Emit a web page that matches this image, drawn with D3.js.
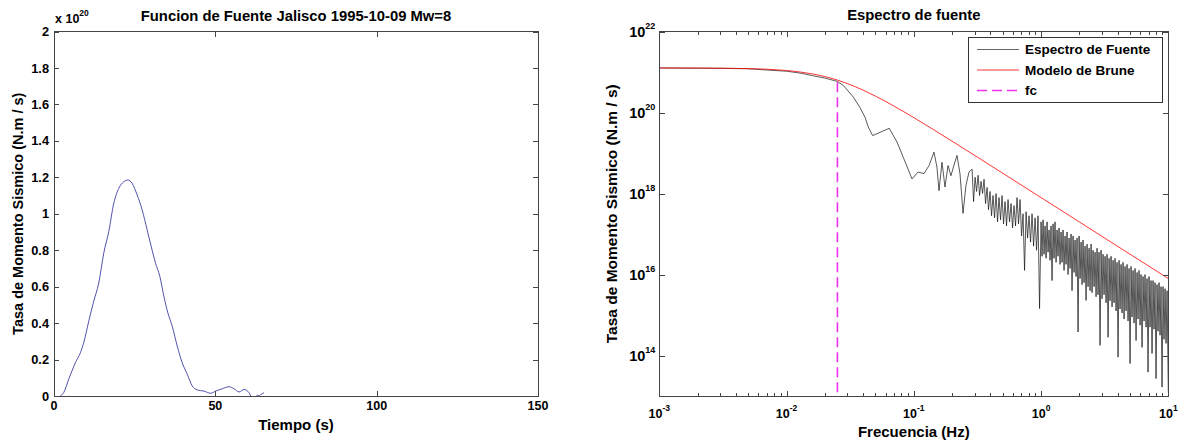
<!DOCTYPE html>
<html><head><meta charset="utf-8">
<script src="https://cdn.jsdelivr.net/npm/d3@7"></script>
<style>
body{margin:0;background:#fff;}
svg text{font-family:"Liberation Sans",Arial,Helvetica,sans-serif;font-weight:bold;fill:#000;}
</style></head><body>
<svg id="c" width="1178" height="442"></svg>
<script>
// ---------- DATA ----------
// Source time function: [time (s), moment rate (x 1e20 N.m/s)]
const stfData = [
 [1.96,0],[2.99,0.018],[4.54,0.091],[6.61,0.182],[8.17,0.237],[9.2,0.292],[10.76,0.41],[12.31,0.52],
 [13.87,0.62],[15.42,0.784],[16.98,0.903],[18.53,1.058],[20.09,1.14],[21.64,1.176],[22.88,1.185],
 [24.21,1.167],[25.77,1.103],[27.32,1.021],[28.87,0.912],[30.12,0.821],[31.46,0.729],[32.81,0.656],
 [34.05,0.547],[35.29,0.456],[36.64,0.383],[38.19,0.274],[39.74,0.182],[41.3,0.119],[42.85,0.055],
 [44.4,0.033],[46.47,0.027],[48.54,0.015],[50.1,0.027],[52.17,0.040],[54.23,0.051],[55.79,0.040],
 [57.34,0.022],[58.9,0.036],[60.45,0.018],[61.2,-0.005],[62.3,-0.01],[63.0,0.004],[63.6,0.0],
 [64.1,0.008],[65.1,0.018]
];
// Source spectrum: [frequency (Hz), log10 amplitude (N.m/s)]
const spectrumData = [
 [0.001,21.10],[0.003,21.09],[0.005,21.08],[0.0078,21.04],[0.01,21.02],[0.013,20.97],[0.016,20.91],
 [0.02,20.85],[0.0249,20.77],[0.0279,20.67],[0.0335,20.38],[0.0378,20.12],[0.0414,19.88],[0.0439,19.64],
 [0.0475,19.43],[0.0543,19.51],[0.0642,19.61],[0.0738,19.27],[0.0868,18.73],[0.0968,18.36],[0.1079,18.53],
 [0.1202,18.49],[0.1317,18.69],[0.1441,19.02],[0.152,18.65],[0.1578,18.07],[0.1666,18.77],[0.1758,18.16],
 [0.1858,18.69],[0.1959,18.44],[0.207,18.70],[0.2185,18.94],[0.2307,18.49],[0.2438,17.51],[0.257,18.20],
 [0.2716,18.53],
 [0.287,18.60],[0.2949,17.80],[0.303,18.40],[0.3113,18.05],[0.320,18.45],[0.3288,17.95],[0.3377,18.30],
 [0.347,18.00],[0.3565,18.35],[0.3663,17.75],[0.3764,18.15],[0.3868,17.60],[0.3973,18.05],[0.4082,17.45],
 [0.4195,17.95],[0.431,17.40],[0.4429,18.00],[0.4551,17.30],[0.4675,17.90],[0.4804,17.35],[0.4937,17.95],
 [0.5073,17.25],[0.5212,17.80],[0.5355,17.20],[0.5503,17.85],[0.5654,17.30],[0.5809,17.75],[0.5969,17.15],
 [0.6134,17.70],[0.6303,17.20],[0.6476,17.90],[0.6654,17.25],[0.6839,17.85],[0.7027,16.95],[0.7221,17.50],
 [0.742,16.10],[0.7625,17.55],[0.7835,16.90],[0.8049,17.45],[0.827,16.80],[0.8499,17.50],[0.8733,16.70],
 [0.8974,17.40],[0.9221,16.60],[0.9472,17.45],[0.9732,15.16],[1.0,17.30],
 [1.018,16.45],[1.037,17.35],[1.056,16.50],[1.075,17.20],[1.095,16.40],[1.115,17.30],[1.135,16.55],
 [1.156,17.10],[1.177,16.35],[1.198,17.20],[1.220,15.85],[1.243,17.25],[1.265,16.40],[1.288,17.30],
 [1.312,16.30],[1.336,17.10],[1.360,16.45],[1.385,17.15],[1.410,16.25],[1.436,17.05],[1.462,16.30],
 [1.489,17.10],[1.516,16.10],[1.544,16.95],[1.572,16.25],[1.601,17.05],[1.630,16.00],[1.660,16.90],
 [1.690,16.15],[1.721,17.00],[1.752,15.60],[1.784,16.95],[1.817,16.05],[1.850,16.85],[1.884,15.95],
 [1.919,16.90],[1.954,14.58],[1.989,16.95],[2.026,15.90],[2.063,16.80],[2.100,15.75],[2.138,16.85],
 [2.177,15.80],[2.217,16.70],[2.258,15.36],[2.299,16.75],[2.341,15.70],[2.384,16.65],[2.427,15.60],
 [2.472,16.75],[2.517,15.55],[2.563,16.60],[2.610,15.70],[2.657,16.55],[2.706,15.45],[2.755,16.65],
 [2.805,15.50],[2.857,16.55],[2.909,14.25],[2.962,16.60],[3.016,15.40],[3.071,16.50],[3.127,15.50],
 [3.184,16.45],[3.242,15.30],[3.302,16.50],[3.362,14.45],[3.423,16.40],[3.485,15.35],[3.549,16.45],
 [3.614,15.20],[3.680,16.35],[3.747,15.30],[3.816,16.40],[3.885,15.10],[3.956,16.30],[4.028,13.96],
 [4.102,16.35],[4.177,15.15],[4.253,16.25],[4.331,15.05],[4.410,16.30],[4.490,14.90],[4.572,16.20],
 [4.656,15.10],[4.741,16.25],[4.827,14.85],[4.915,16.15],[5.005,13.80],[5.096,16.20],[5.189,14.95],
 [5.284,16.10],[5.380,14.80],[5.479,16.15],[5.579,14.37],[5.681,16.05],[5.784,14.90],[5.890,16.10],
 [5.997,14.75],[6.107,16.00],[6.218,14.20],[6.332,15.95],[6.447,14.85],[6.565,16.00],[6.685,14.70],
 [6.808,15.90],[6.931,13.59],[7.058,15.95],[7.186,14.70],[7.318,15.85],[7.451,14.05],[7.588,15.85],
 [7.726,14.65],[7.868,15.80],[8.011,13.43],[8.157,15.75],[8.306,14.60],[8.458,15.80],[8.612,14.50],
 [8.770,15.70],[8.930,13.22],[9.093,15.70],[9.259,14.40],[9.429,15.65],[9.600,14.30],[9.777,15.60],
 [10.0,13.10]
];
// Brune model: [frequency (Hz), moment rate (N.m/s)]
const bruneData = [
 [0.001,1.258e21],[0.002,1.252e21],[0.005,1.212e21],[0.008,1.144e21],[0.01,1.087e21],[0.013,9.93e20],
 [0.016,8.96e20],[0.02,7.71e20],[0.025,6.33e20],[0.03,5.19e20],[0.04,3.56e20],[0.05,2.536e20],
 [0.07,1.435e20],[0.1,7.47e19],[0.2,1.953e19],[0.5,3.167e18],[1,7.93e17],[2,1.984e17],[5,3.175e16],
 [10,7.94e15]
];
// Corner frequency line: [frequency, value]
const fcData = [[0.0251,5.6e20],[0.0251,1e13]];

const leftXTicks = [0,50,100,150];
const leftYTicks = [0,0.2,0.4,0.6,0.8,1,1.2,1.4,1.6,1.8,2];
const leftYTickLabels = ["0","0.2","0.4","0.6","0.8","1","1.2","1.4","1.6","1.8","2"];
const rightXExps = [-3,-2,-1,0,1];
const rightYExps = [14,16,18,20,22];
const legendLabels = ["Espectro de Fuente","Modelo de Brune","fc"];

// ---------- DRAW ----------
const svg = d3.select("#c");
const AX = "#454545";
const FC_COLOR = "#f030f0";

function frame(g, x0, x1, y0, y1){
  g.append("rect").attr("x",x0).attr("y",y0).attr("width",x1-x0).attr("height",y1-y0)
   .attr("fill","none").attr("stroke",AX).attr("stroke-width",1).attr("shape-rendering","crispEdges");
}
function styleAxis(sel){
  sel.select(".domain").remove();
  sel.selectAll(".tick line").attr("stroke",AX).attr("shape-rendering","crispEdges");
  sel.selectAll(".tick text").remove();
}

// ===== Left panel =====
const L = {x0:54, x1:538, y0:31.5, y1:396};
const lx = d3.scaleLinear().domain([0,150]).range([L.x0,L.x1]);
const ly = d3.scaleLinear().domain([0,2]).range([L.y1,L.y0]);
const gl = svg.append("g");
const defs = svg.append("defs");
defs.append("clipPath").attr("id","clipL").append("rect")
  .attr("x",L.x0).attr("y",L.y0).attr("width",L.x1-L.x0).attr("height",L.y1-L.y0);

gl.append("path").datum(stfData)
  .attr("clip-path","url(#clipL)")
  .attr("fill","none").attr("stroke","#3e3ea0").attr("stroke-width",0.9)
  .attr("d", d3.line().x(d=>lx(d[0])).y(d=>ly(d[1])).curve(d3.curveMonotoneX));

gl.append("g").attr("transform",`translate(0,${L.y1})`)
  .call(d3.axisBottom(lx).tickValues(leftXTicks).tickSize(-5).tickSizeOuter(0)).call(styleAxis);
gl.append("g").attr("transform",`translate(0,${L.y0})`)
  .call(d3.axisTop(lx).tickValues(leftXTicks).tickSize(-5).tickSizeOuter(0)).call(styleAxis);
gl.append("g").attr("transform",`translate(${L.x0},0)`)
  .call(d3.axisLeft(ly).tickValues(leftYTicks).tickSize(-5).tickSizeOuter(0)).call(styleAxis);
gl.append("g").attr("transform",`translate(${L.x1},0)`)
  .call(d3.axisRight(ly).tickValues(leftYTicks).tickSize(-5).tickSizeOuter(0)).call(styleAxis);
frame(gl, L.x0, L.x1, L.y0, L.y1);

gl.selectAll("text.xt").data(leftXTicks).enter().append("text")
  .attr("x",d=>lx(d)).attr("y",L.y1+14).attr("text-anchor","middle")
  .style("font-size","12.5px").text(d=>d);
gl.selectAll("text.yt").data(leftYTicks).enter().append("text")
  .attr("x",L.x0-5).attr("y",d=>ly(d)+4.6).attr("text-anchor","end")
  .style("font-size","12.8px").text((d,i)=>leftYTickLabels[i]);

const mult = gl.append("text").attr("x",55).attr("y",22.5).style("font-size","12.5px");
mult.append("tspan").text("x 10");
mult.append("tspan").attr("dy",-6.5).style("font-size","8.5px").text("20");

gl.append("text").attr("x",(L.x0+L.x1)/2).attr("y",20.5).attr("text-anchor","middle")
  .style("font-size","14.8px").text("Funcion de Fuente Jalisco 1995-10-09 Mw=8");
gl.append("text").attr("x",(L.x0+L.x1)/2).attr("y",429.5).attr("text-anchor","middle")
  .style("font-size","15px").text("Tiempo (s)");
gl.append("text").attr("transform",`translate(22.5,${(L.y0+L.y1)/2}) rotate(-90)`)
  .attr("text-anchor","middle").style("font-size","14.5px").text("Tasa de Momento Sismico (N.m / s)");

// ===== Right panel =====
const R = {x0:659.3, x1:1168.3, y0:31.5, y1:396};
const rx = d3.scaleLog().domain([1e-3,10]).range([R.x0,R.x1]);
const ry = d3.scaleLog().domain([1e13,1e22]).range([R.y1,R.y0]);
const gr = svg.append("g");
defs.append("clipPath").attr("id","clipR").append("rect")
  .attr("x",R.x0).attr("y",R.y0).attr("width",R.x1-R.x0).attr("height",R.y1-R.y0);

gr.append("path").datum(spectrumData)
  .attr("clip-path","url(#clipR)")
  .attr("fill","none").attr("stroke","#111").attr("stroke-width",0.7)
  .attr("d", d3.line().x(d=>rx(d[0])).y(d=>ry(Math.pow(10,d[1]))));
gr.append("path").datum(bruneData)
  .attr("clip-path","url(#clipR)")
  .attr("fill","none").attr("stroke","#ff0000").attr("stroke-width",0.8)
  .attr("d", d3.line().x(d=>rx(d[0])).y(d=>ry(d[1])).curve(d3.curveMonotoneX));
gr.append("path").datum(fcData)
  .attr("fill","none").attr("stroke",FC_COLOR).attr("stroke-width",1.6).attr("stroke-dasharray","10,5")
  .attr("d", d3.line().x(d=>rx(d[0])).y(d=>Math.min(ry(d[1]),R.y1-0.5)));

const majorX = rightXExps.map(e=>Math.pow(10,e));
const minorX = rx.ticks().filter(v=>!majorX.some(m=>Math.abs(m-v)/m<1e-6));
const majorY = rightYExps.map(e=>Math.pow(10,e));
function logAxes(gen, pos, isX){
  const sc = isX ? rx : ry;
  gr.append("g").attr("transform", isX?`translate(0,${pos})`:`translate(${pos},0)`)
    .call(gen(sc).tickValues(isX?majorX:majorY).tickSize(-5.5).tickSizeOuter(0)).call(styleAxis);
  if(isX){
    gr.append("g").attr("transform",`translate(0,${pos})`)
      .call(gen(sc).tickValues(minorX).tickSize(-3).tickSizeOuter(0)).call(styleAxis);
  }
}
logAxes(d3.axisBottom, R.y1, true);
logAxes(d3.axisTop, R.y0, true);
logAxes(d3.axisLeft, R.x0, false);
logAxes(d3.axisRight, R.x1, false);
frame(gr, R.x0, R.x1, R.y0, R.y1);

const xl = gr.selectAll("text.rxt").data(rightXExps).enter().append("text")
  .attr("x",d=>rx(Math.pow(10,d))).attr("y",R.y1+21.5).attr("text-anchor","middle")
  .style("font-size","12.5px");
xl.append("tspan").text("10");
xl.append("tspan").attr("dy",-7).style("font-size","8.5px").text(d=>d);

const yl = gr.selectAll("text.ryt").data(rightYExps).enter().append("text")
  .attr("x",R.x0-4).attr("y",d=>ry(Math.pow(10,d))+5.2).attr("text-anchor","end")
  .style("font-size","14.5px");
yl.append("tspan").text("10");
yl.append("tspan").attr("dy",-8).style("font-size","9px").text(d=>d);

gr.append("text").attr("x",(R.x0+R.x1)/2).attr("y",20).attr("text-anchor","middle")
  .style("font-size","14.8px").text("Espectro de fuente");
gr.append("text").attr("x",(R.x0+R.x1)/2).attr("y",437).attr("text-anchor","middle")
  .style("font-size","15px").text("Frecuencia (Hz)");
gr.append("text").attr("transform",`translate(617,${(R.y0+R.y1)/2}) rotate(-90)`)
  .attr("text-anchor","middle").style("font-size","15.5px").text("Tasa de Momento Sismico (N.m / s)");

// Legend
const lg = gr.append("g");
lg.append("rect").attr("x",968).attr("y",37.5).attr("width",194).attr("height",64.5)
  .attr("fill","#fff").attr("stroke","#333").attr("stroke-width",1).attr("shape-rendering","crispEdges");
const legStyles = [
  {stroke:"#666", w:1, dash:null},
  {stroke:"#ff0000", w:0.8, dash:null},
  {stroke:FC_COLOR, w:1.3, dash:"10,5"}
];
const legY = [49.5, 70, 90.5];
legendLabels.forEach((lab,i)=>{
  const s = legStyles[i];
  const ln = lg.append("line").attr("x1",977).attr("x2",1019).attr("y1",legY[i]).attr("y2",legY[i])
    .attr("stroke",s.stroke).attr("stroke-width",s.w);
  if(s.dash) ln.attr("stroke-dasharray",s.dash);
  lg.append("text").attr("x",1025).attr("y",legY[i]+4.8).style("font-size","13.5px").text(lab);
});
</script>
</body></html>
